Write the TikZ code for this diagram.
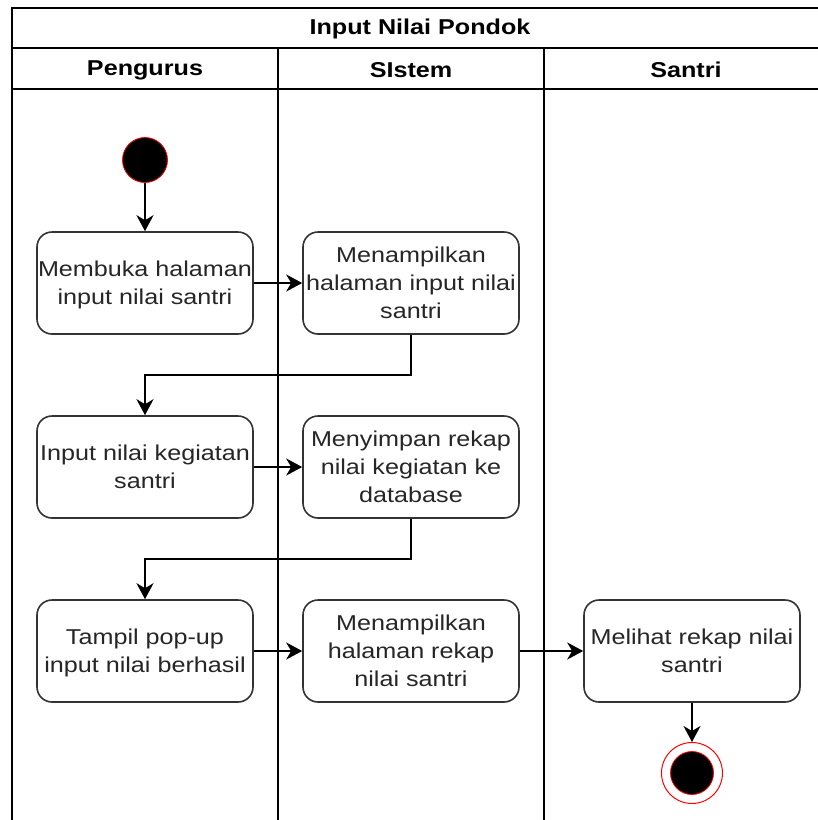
\documentclass[tikz,border=0pt]{standalone}
\usepackage{fontspec}
\setmainfont{Liberation Sans}[FakeStretch=1.17]
\usetikzlibrary{arrows.meta}
\definecolor{boxline}{HTML}{333333}
\tikzset{
  lane/.style={draw=black, line width=1.8pt},
  actbox/.style={draw=boxline, line width=1.6pt, rounded corners=15pt, fill=white,
    minimum width=216pt, minimum height=102pt, inner sep=0pt, align=center,
    text=black!85, font=\fontsize{21.5}{28}\selectfont, text depth=0pt},
  hdr/.style={font=\fontsize{21.5}{25}\selectfont\bfseries, text=black, inner sep=0pt},
  arr/.style={draw=black, line width=1.8pt, -{Stealth[length=16pt,width=17pt,inset=5pt]}},
  startnode/.style={circle, fill=black, draw=red, line width=0.8pt, minimum size=45pt, inner sep=0pt},
  endouter/.style={circle, fill=white, draw=red, line width=1pt, minimum size=61pt, inner sep=0pt},
  endinner/.style={circle, fill=black, draw=red, line width=0.8pt, minimum size=43pt, inner sep=0pt},
}
\begin{document}
\begin{tikzpicture}[x=1pt, y=-1pt]
\clip (0,0) rectangle (818,820);
\fill[white] (0,0) rectangle (818,820);
% pool
\draw[lane] (12,820) -- (12,8) -- (840,8);
\draw[lane] (12,48) -- (840,48);
\draw[lane] (12,89) -- (840,89);
\draw[lane] (278,48) -- (278,830);
\draw[lane] (544,48) -- (544,830);
\node[hdr] (title) at (420,29) {Input Nilai Pondok};
\node[hdr] (h1) at (145,70) {Pengurus};
\node[hdr] (h2) at (411,70) {SIstem};
\node[hdr] (h3) at (686,70) {Santri};
% nodes
\node[startnode] (s) at (145,160) {};
\node[actbox] (b1) at (145,283) {Membuka halaman\\input nilai santri};
\node[actbox] (b2) at (411,283) {Menampilkan\\halaman input nilai\\santri};
\node[actbox] (b3) at (145,467) {Input nilai kegiatan\\santri};
\node[actbox] (b4) at (411,467) {Menyimpan rekap\\nilai kegiatan ke\\database};
\node[actbox] (b5) at (145,651) {Tampil pop-up\\input nilai berhasil};
\node[actbox] (b6) at (411,651) {Menampilkan\\halaman rekap\\nilai santri};
\node[actbox] (b7) at (692,651) {Melihat rekap nilai\\santri};
\node[endouter] (e) at (692,773) {};
\node[endinner] (ei) at (692,773) {};
% connectors
\coordinate (j1) at (411,375);
\coordinate (j2) at (411,559);
\draw[arr] (s) -- (b1);
\draw[arr] (b1) -- (b2);
\draw[arr] (b2.south) -- (j1) -| (b3.north);
\draw[arr] (b3) -- (b4);
\draw[arr] (b4.south) -- (j2) -| (b5.north);
\draw[arr] (b5) -- (b6);
\draw[arr] (b6) -- (b7);
\draw[arr] (b7) -- (e);
\end{tikzpicture}
\end{document}
